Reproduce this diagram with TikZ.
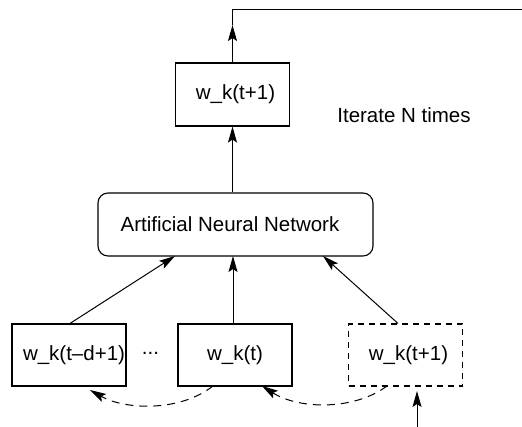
\documentclass[tikz,border=0pt]{standalone}
\usepackage{fontspec}
\setmainfont{Liberation Sans}
\usetikzlibrary{arrows.meta}
\begin{document}
\begin{tikzpicture}[x=1pt,y=-1pt,
  every node/.style={font=\fontsize{20.5}{24}\selectfont},
  wbox/.style={draw,line width=1.1pt,minimum width=114pt,minimum height=62pt,inner sep=0pt},
  dbox/.style={wbox,dashed,dash pattern=on 6pt off 5pt},
  annbox/.style={draw,line width=1.1pt,rounded corners=10pt,minimum width=275pt,minimum height=63pt,inner sep=0pt},
  arr/.style={-{Stealth[length=16pt,width=9pt,inset=3pt]},line width=1pt},
  darr/.style={arr,dashed,dash pattern=on 8pt off 6pt}]
\useasboundingbox (0,0) rectangle (522,427);
% output of the network
\node[wbox,minimum height=63pt] (out) at (232.5,94.5) {\hspace*{6pt}\raisebox{-4pt}{w\_k(t+1)}};
\node (iter) at (404,115) {Iterate N times};
\node[annbox] (ann) at (235.5,224.5) {Artificial Neural Network\hspace*{11pt}};
% input window
\node[wbox] (in1) at (69,355) {\hspace*{10pt}w\_k(t--d+1)};
\node (dots) at (150.5,353) {...};
\node[wbox] (in2) at (235,355) {\raisebox{3pt}{w\_k(t)}};
\node[dbox] (in3) at (405.5,355) {\hspace*{6pt}\raisebox{2pt}{w\_k(t+1)}};
% feedback loop
\coordinate (mid) at (232.5,25);
\coordinate (corner) at (232.5,10);
\coordinate (rightend) at (522,10);
\draw[arr] (out.north) -- (mid);
\draw[line width=1pt] (mid) -- (corner) -- (rightend);
\coordinate (feed) at (417,427);
\draw[arr] (feed) -- (417,391);
% network connections
\draw[arr] (ann.north -| out.south) -- (out.south);
\draw[arr] (in1.north -| 70,0) -- (175,256);
\draw[arr] (233,324) -- (233,256);
\draw[arr] (in3.north -| 398,0) -- (323,256);
% shifting the window
\draw[darr] (213,386) .. controls (180,412) and (125,410) .. (90,390);
\draw[darr] (387,386) .. controls (355,410) and (300,410) .. (262,386);
\end{tikzpicture}
\end{document}
